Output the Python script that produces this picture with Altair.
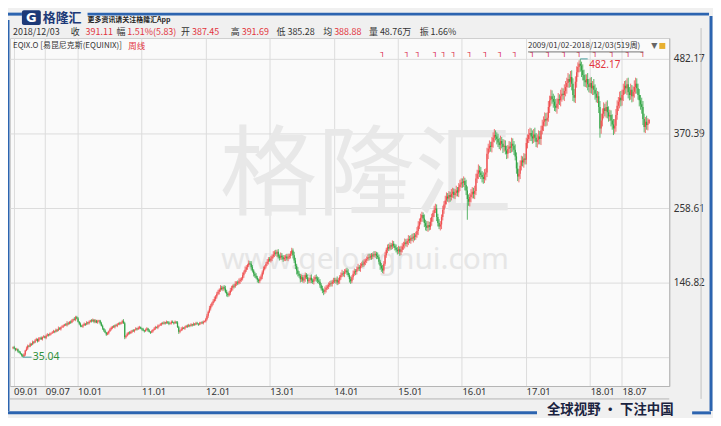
import altair as alt
import pandas as pd

# ---------------- data (weekly candles, EQIX.O, 2009/01/02 - 2018/12/03, 519 weeks) -------------
first_open = 49
c2009 = [50, 48, 46, 47, 44, 42, 40, 38, 36, 39,
         45, 48, 52, 51, 55, 54, 58, 57, 60, 62,
         59, 63, 64, 62, 65, 66, 64, 67, 69, 68,
         70, 71, 72, 74, 73, 76, 75, 78, 77, 80,
         81, 82, 84, 83, 86, 85, 88, 87, 90, 92,
         91, 95, 93]
c2010 = [88, 85, 82, 81, 83, 85, 84, 87, 86, 88,
         90, 89, 91, 88, 90, 87, 89, 90, 86, 82,
         78, 75, 72, 69, 71, 74, 77, 79, 81, 80,
         83, 82, 84, 86, 85, 87, 89, 86, 65, 67,
         70, 72, 71, 73, 75, 74, 76, 78, 77, 79,
         80, 78]
c2011 = [77, 75, 74, 76, 78, 75, 73, 72, 74, 76,
         78, 80, 79, 82, 83, 84, 86, 85, 87, 86,
         88, 87, 85, 86, 88, 87, 86, 88, 87, 80,
         73, 75, 77, 79, 78, 80, 82, 81, 83, 82,
         84, 83, 85, 84, 86, 85, 84, 86, 87, 86,
         88, 89]
c2012 = [92, 97, 103, 108, 112, 116, 119, 122, 126, 130,
         133, 136, 139, 137, 140, 138, 133, 130, 128, 131,
         135, 139, 142, 141, 145, 147, 146, 149, 151, 153,
         158, 162, 166, 170, 173, 176, 175, 170, 165, 160,
         157, 154, 151, 149, 152, 156, 162, 167, 171, 175,
         178, 182, 180]
c2013 = [183, 186, 189, 192, 190, 193, 186, 184, 187, 185,
         182, 184, 186, 183, 185, 187, 190, 195, 188, 180,
         172, 165, 160, 157, 152, 155, 150, 153, 158, 155,
         149, 151, 154, 150, 148, 152, 155, 153, 150, 148,
         143, 138, 135, 133, 136, 139, 141, 143, 146, 145,
         148, 150]
c2014 = [149, 151, 147, 150, 155, 158, 161, 160, 163, 165,
         162, 158, 152, 149, 155, 160, 164, 163, 167, 170,
         168, 172, 175, 174, 178, 180, 182, 185, 184, 187,
         186, 189, 188, 190, 187, 185, 178, 172, 168, 165,
         175, 188, 196, 200, 198, 203, 201, 205, 202, 199,
         196, 194]
c2015 = [197, 193, 196, 201, 204, 207, 205, 209, 212, 210,
         214, 213, 216, 215, 219, 224, 232, 238, 244, 248,
         243, 236, 232, 229, 233, 230, 238, 245, 251, 256,
         258, 245, 236, 231, 234, 245, 256, 264, 270, 276,
         273, 278, 275, 280, 283, 278, 281, 285, 282, 290,
         294, 297]
c2016 = [296, 299, 293, 285, 272, 268, 275, 279, 283, 280,
         284, 303, 310, 315, 312, 308, 305, 302, 309, 312,
         340, 348, 352, 350, 358, 364, 368, 366, 362, 357,
         353, 359, 355, 350, 352, 345, 340, 347, 351, 349,
         355, 352, 346, 336, 318, 306, 310, 322, 330, 327,
         333, 331]
c2017 = [356, 362, 368, 371, 366, 363, 369, 364, 358, 361,
         366, 362, 375, 382, 388, 392, 390, 394, 410, 420,
         426, 422, 418, 412, 409, 415, 422, 420, 426, 430,
         428, 434, 440, 446, 452, 448, 455, 445, 428, 424,
         448, 462, 470, 475, 472, 465, 458, 450, 447, 452,
         444, 440]
c2018 = [446, 438, 442, 436, 430, 424, 426, 410, 378, 390,
         400, 408, 404, 410, 402, 396, 398, 390, 384, 378,
         382, 398, 412, 418, 424, 420, 428, 436, 442, 438,
         444, 432, 428, 436, 426, 433, 440, 445, 438, 428,
         420, 414, 410, 392, 380, 388, 383, 385.28, 391.11]

# upper / lower shadow lengths
u2009 = [1, 2, 1, 2, 1, 1, 2, 1, 2, 2, 1, 3, 2, 1, 2, 1, 2, 1, 2, 2, 1, 2, 1, 2, 1, 2, 1, 2, 2, 1,
         2, 1, 2, 2, 1, 2, 1, 3, 2, 1, 2, 2, 1, 2, 3, 2, 1, 2, 2, 1, 3, 2, 2]
d2009 = [2, 1, 2, 1, 2, 1, 1, 2, 0.96, 0.5, 2, 1, 2, 1, 1, 2, 1, 2, 1, 1, 2, 1, 2, 1, 2, 1, 1, 2, 1, 2,
         1, 2, 1, 1, 2, 1, 2, 1, 1, 2, 1, 2, 1, 1, 2, 2, 1, 2, 1, 2, 1, 2, 1]
u2010 = [2, 1, 2, 1, 2, 2, 1, 2, 1, 2, 1, 2, 2, 1, 2, 1, 2, 1, 1, 2, 2, 1, 2, 1, 2, 1, 2, 2, 1, 2,
         1, 2, 2, 1, 2, 1, 2, 3, 2, 1, 2, 1, 2, 2, 1, 2, 1, 2, 1, 2, 2, 1]
d2010 = [1, 2, 2, 1, 2, 1, 2, 1, 2, 2, 1, 2, 1, 2, 2, 1, 2, 1, 2, 1, 2, 2, 1, 2, 1, 2, 1, 2, 2, 1,
         2, 1, 2, 1, 2, 1, 2, 1, 3, 2, 1, 2, 2, 1, 2, 1, 2, 1, 2, 1, 2, 1]
u2011 = [1, 2, 1, 2, 2, 1, 2, 1, 2, 1, 2, 2, 1, 2, 1, 2, 1, 2, 2, 1, 2, 1, 2, 1, 2, 2, 1, 2, 1, 2,
         2, 1, 3, 2, 1, 2, 1, 2, 2, 1, 2, 1, 2, 1, 2, 2, 1, 2, 1, 2, 2, 1]
d2011 = [2, 1, 2, 1, 1, 2, 1, 2, 1, 2, 1, 2, 1, 2, 2, 1, 2, 1, 1, 2, 1, 2, 2, 1, 2, 1, 2, 1, 2, 1,
         3, 2, 1, 2, 1, 2, 1, 2, 1, 2, 1, 2, 1, 2, 1, 1, 2, 1, 2, 1, 2, 1]
u2012 = [2, 3, 2, 4, 3, 2, 3, 4, 2, 3, 3, 2, 4, 3, 2, 3, 4, 3, 2, 3, 4, 3, 2, 3, 4, 2, 3, 4, 3, 2,
         4, 3, 5, 3, 2, 4, 3, 4, 3, 2, 3, 4, 3, 2, 4, 3, 3, 4, 2, 3, 4, 3, 3]
d2012 = [2, 2, 3, 2, 3, 2, 3, 2, 3, 3, 2, 4, 3, 2, 3, 3, 2, 4, 3, 2, 3, 2, 4, 3, 2, 3, 3, 2, 4, 3,
         3, 4, 2, 3, 4, 3, 2, 5, 3, 4, 3, 2, 4, 3, 3, 2, 4, 3, 2, 3, 3, 4, 2]
u2013 = [4, 3, 5, 3, 4, 3, 4, 3, 5, 4, 3, 4, 3, 4, 5, 3, 4, 4, 3, 5, 4, 3, 5, 4, 3, 4, 3, 5, 4, 3,
         4, 3, 4, 5, 3, 4, 3, 4, 3, 5, 4, 3, 4, 3, 5, 4, 3, 4, 3, 4, 3, 4]
d2013 = [3, 4, 3, 4, 3, 5, 3, 4, 3, 4, 4, 3, 5, 3, 4, 3, 4, 3, 5, 4, 5, 6, 4, 3, 5, 4, 3, 4, 5, 3,
         4, 3, 5, 4, 3, 4, 3, 5, 4, 3, 4, 3, 4, 5, 3, 4, 3, 4, 3, 4, 4, 3]
u2014 = [4, 3, 5, 4, 3, 4, 5, 3, 4, 3, 4, 5, 3, 4, 3, 5, 4, 3, 4, 5, 3, 4, 3, 5, 4, 3, 4, 4, 5, 3,
         4, 3, 5, 4, 3, 5, 4, 3, 4, 5, 4, 5, 3, 4, 5, 4, 3, 5, 4, 3, 5, 4]
d2014 = [3, 4, 4, 3, 5, 4, 3, 4, 5, 3, 4, 3, 5, 4, 3, 4, 3, 5, 4, 3, 4, 5, 3, 4, 3, 5, 4, 3, 4, 3,
         5, 4, 3, 4, 5, 3, 4, 6, 5, 4, 5, 3, 4, 5, 4, 3, 5, 4, 3, 4, 4, 5]
u2015 = [5, 4, 6, 5, 4, 6, 5, 4, 6, 5, 4, 6, 5, 5, 4, 6, 7, 5, 6, 5, 4, 6, 5, 7, 6, 5, 6, 5, 4, 6,
         7, 6, 5, 6, 5, 4, 6, 5, 7, 6, 5, 6, 5, 7, 6, 5, 6, 7, 5, 6, 7, 6]
d2015 = [4, 6, 5, 4, 5, 6, 4, 5, 6, 4, 5, 4, 6, 5, 4, 5, 6, 5, 4, 6, 5, 6, 7, 5, 6, 5, 4, 6, 7, 6,
         5, 6, 5, 4, 6, 7, 5, 6, 5, 6, 5, 6, 7, 5, 6, 5, 6, 5, 6, 7, 6, 5]
u2016 = [6, 7, 5, 8, 6, 7, 6, 8, 7, 6, 8, 7, 6, 9, 7, 8, 6, 7, 8, 6, 9, 7, 8, 6, 7, 8, 9, 7, 6, 8,
         7, 8, 6, 7, 9, 8, 7, 6, 8, 7, 9, 8, 7, 8, 6, 9, 7, 8, 7, 6, 8, 7]
d2016 = [7, 6, 8, 7, 31, 6, 7, 8, 6, 7, 8, 6, 7, 8, 7, 6, 8, 7, 6, 9, 7, 8, 6, 7, 8, 9, 7, 6, 8, 7,
         6, 8, 7, 9, 7, 6, 8, 7, 6, 8, 7, 9, 8, 6, 8, 7, 9, 8, 7, 6, 8, 7]
u2017 = [8, 7, 9, 8, 7, 9, 8, 10, 7, 8, 9, 8, 7, 9, 8, 10, 9, 8, 9, 7, 10, 9, 8, 9, 10, 8, 9, 7, 10, 9,
         8, 10, 9, 8, 9, 7, 9, 10, 8, 9, 8, 9, 7, 5, 7.17, 6, 9, 8, 9, 7, 9, 8]
d2017 = [7, 8, 6, 9, 7, 8, 7, 6, 8, 9, 7, 8, 9, 6, 8, 7, 9, 8, 6, 9, 8, 7, 9, 8, 6, 9, 8, 7, 9, 8,
         7, 9, 8, 10, 7, 9, 8, 10, 9, 7, 8, 9, 7, 8, 9, 10, 8, 9, 7, 8, 9, 8]
u2018 = [8, 9, 7, 10, 8, 9, 8, 7, 9, 10, 8, 9, 7, 8, 10, 9, 8, 7, 9, 8, 10, 9, 8, 7, 9, 10, 8, 9, 7, 8,
         9, 10, 8, 9, 7, 8, 10, 9, 8, 7, 9, 8, 10, 9, 8, 7, 9, 8, 0.58]
d2018 = [9, 8, 10, 8, 9, 7, 8, 9, 14, 8, 9, 7, 8, 10, 9, 8, 7, 9, 8, 10, 8, 9, 7, 8, 10, 9, 8, 9, 7, 8,
         10, 9, 8, 7, 9, 8, 9, 10, 8, 7, 9, 8, 10, 9, 8, 9, 7, 8, 0]

close = c2009 + c2010 + c2011 + c2012 + c2013 + c2014 + c2015 + c2016 + c2017 + c2018
wick_up = u2009 + u2010 + u2011 + u2012 + u2013 + u2014 + u2015 + u2016 + u2017 + u2018
wick_dn = d2009 + d2010 + d2011 + d2012 + d2013 + d2014 + d2015 + d2016 + d2017 + d2018

# weeks carrying a dividend marker
div_weeks = [301, 321, 330, 344, 351, 359, 372, 385, 397, 409, 423, 436, 449, 461, 474, 488, 501, 513]
x_tick_months = ["2009-01", "2009-07", "2010-01", "2011-01", "2012-01", "2013-01", "2014-01",
                 "2015-01", "2016-01", "2017-01", "2018-01", "2018-07"]
y_ticks = [35.04, 146.82, 258.61, 370.39, 482.17]

# ---------------- tables ----------------
dates = pd.date_range("2008-12-29", periods=len(close), freq="7D")
opens = [first_open] + close[:-1]
rows = []
for i in range(len(close)):
    o, c = opens[i], close[i]
    wu = wick_up[i] if i < len(wick_up) else 0
    wd = wick_dn[i] if i < len(wick_dn) else 0
    rows.append(dict(date=dates[i].strftime("%Y-%m-%d"), open=o, close=c,
                     high=max(o, c) + wu, low=min(o, c) - wd,
                     dir="up" if c >= o else "down"))
df = pd.DataFrame(rows)

imax = int(df["high"].idxmax())
imin = int(df["low"].idxmin())
ann = pd.DataFrame([
    dict(date=df.loc[imax, "date"], date2=(dates[imax] + pd.Timedelta(days=42)).strftime("%Y-%m-%d"),
         v=float(df.loc[imax, "high"]), label=f"{df.loc[imax, 'high']:.2f}", kind="max"),
    dict(date=df.loc[imin, "date"], date2=(dates[imin] + pd.Timedelta(days=50)).strftime("%Y-%m-%d"),
         v=float(df.loc[imin, "low"]), label=f"{df.loc[imin, 'low']:.2f}", kind="min"),
])
div_df = pd.DataFrame({"date": [dates[w].strftime("%Y-%m-%d") for w in div_weeks if w < len(dates)]})
ONE = pd.DataFrame({"k": [0]})

# ---------------- styling ----------------
W, H = 663, 350
RED = "#e2343c"
UP = "#ef4f50"
DOWN = "#33a546"
TXT = "#333333"
BLUE = "#2c64b0"
GRID = "#dcdcdc"
CJK = "Noto Sans CJK SC"

x_scale = alt.Scale(type="utc", domain=[alt.DateTime(year=2008, month=12, date=12, utc=True),
                                        alt.DateTime(year=2019, month=3, date=28, utc=True)])
y_scale = alt.Scale(domain=[-8.2, 513.5], nice=False, zero=False)
x_axis = alt.Axis(values=[alt.DateTime(year=int(s[:4]), month=int(s[5:7]), date=1, utc=True) for s in x_tick_months],
                  labelExpr="utcFormat(datum.value, '%y.%m')", labelAlign="left", labelBaseline="top",
                  labelPadding=1, labelFontSize=9.5, labelColor=TXT, labelFont="Noto Sans",
                  labelOverlap=False, labelBound=False, labelFlush=False, ticks=False,
                  domainColor="#b4b4b4", grid=True, gridColor=GRID, title=None)
y_axis = alt.Axis(orient="right", values=y_ticks,
                  labelExpr="datum.value < 100 ? '' : format(datum.value, '.2f')",
                  ticks=False, grid=True, gridColor=GRID, domainColor="#b4b4b4",
                  labelPadding=4, labelFontSize=10, labelColor=TXT, labelFont="Noto Sans", title=None)
X = alt.X("date:T", scale=x_scale, axis=x_axis)
col = alt.Color("dir:N", scale=alt.Scale(domain=["up", "down"], range=[UP, DOWN]), legend=None)


def txt(s, x, y, color=TXT, size=9, weight="normal", font=CJK, align="left"):
    return alt.Chart(ONE).mark_text(text=s, align=align, baseline="middle", fontSize=size,
                                    fontWeight=weight, font=font, color=color).encode(
        x=alt.value(x), y=alt.value(y))


def hline(x1, x2, y, color, w=1.0):
    return alt.Chart(ONE).mark_rule(color=color, strokeWidth=w).encode(
        x=alt.value(x1), x2=alt.value(x2), y=alt.value(y))


def vline(x, y1, y2, color, w=1.0):
    return alt.Chart(ONE).mark_rule(color=color, strokeWidth=w).encode(
        x=alt.value(x), y=alt.value(y1), y2=alt.value(y2))


# watermark
wm1 = txt("格隆汇", 358, 141, color="#e8e8e8", size=98, align="center")
wm2 = txt("www.gelonghui.com", 357, 223, color="#e6e6e6", size=30, font="Noto Sans", align="center")

base = alt.Chart(df)
wick = base.mark_rule(strokeWidth=0.8).encode(
    x=X, y=alt.Y("low:Q", scale=y_scale, axis=y_axis), y2="high:Q", color=col)
body = base.mark_rule(strokeWidth=1.25).encode(
    x=X, y=alt.Y("open:Q", scale=y_scale, axis=y_axis), y2="close:Q", color=col)

div_marks = alt.Chart(div_df).mark_text(text="┐", fontSize=8, fontWeight="bold", color="#d8103c",
                                        baseline="middle", align="center", font="DejaVu Sans").encode(
    x=X, y=alt.value(15.5))

lead = alt.Chart(ann).mark_rule(color="#4a9fa0", strokeWidth=1).encode(
    x=X, x2="date2:T", y=alt.Y("v:Q", scale=y_scale, axis=y_axis))
ann_max = alt.Chart(ann).transform_filter("datum.kind == 'max'").mark_text(
    align="left", baseline="middle", dx=9, dy=6, fontSize=10, color=RED, font="Noto Sans").encode(
    x=X, y=alt.Y("v:Q", scale=y_scale, axis=y_axis), text="label:N")
ann_min = alt.Chart(ann).transform_filter("datum.kind == 'min'").mark_text(
    align="left", baseline="middle", dx=10, dy=0, fontSize=10.5, color="#2f8f3a", font="Noto Sans").encode(
    x=X, y=alt.Y("v:Q", scale=y_scale, axis=y_axis), text="label:N")

# header row 1
row1_y = -6
hdr = [
    txt("2018/12/03", 3, row1_y), txt("收", 61, row1_y), txt("391.11", 76, row1_y, RED),
    txt("幅", 107, row1_y), txt("1.51%(5.83)", 118, row1_y, RED), txt("开", 172, row1_y),
    txt("387.45", 183, row1_y, RED), txt("高", 222, row1_y), txt("391.69", 233, row1_y, RED),
    txt("低", 268, row1_y), txt("385.28", 279, row1_y), txt("均", 315, row1_y),
    txt("388.88", 326, row1_y, RED), txt("量", 361, row1_y), txt("48.76万", 372, row1_y),
    txt("振", 412, row1_y), txt("1.66%", 423, row1_y),
    # row 2
    txt("EQIX.O [易昆尼克斯(EQUINIX)]", 3, 8, size=8),
    txt("周线", 119, 8, RED, size=8.5),
    txt("2009/01/02-2018/12/03(519周)", 521, 8, size=8),
    hline(521, 637, 14, "#555555", 0.8),
    txt("▼", 645, 8, "#666666", size=8, font="DejaVu Sans"),
    alt.Chart(ONE).mark_rect(color="#e8b030").encode(x=alt.value(653), x2=alt.value(659),
                                                     y=alt.value(5), y2=alt.value(11)),
]

# logo and frame
deco = [
    hline(-2, 12, -24, BLUE, 3), hline(78, 703, -24, BLUE, 3),
    vline(705, -22, 375, BLUE, 3), vline(-2, -18, 375, BLUE, 3),
    hline(-2, 530, 377, BLUE, 3), hline(686, 705, 377, BLUE, 3),
    alt.Chart(ONE).mark_rect(color="#1d3a78", cornerRadius=2).encode(
        x=alt.value(12), x2=alt.value(31), y=alt.value(-28), y2=alt.value(-13)),
    txt("G", 21.5, -20.5, "#ffffff", size=13, weight="bold", font="DejaVu Sans", align="center"),
    txt("格隆汇", 33, -20, "#1d3a78", size=13, weight="bold"),
    txt("更多资讯请关注格隆汇App", 78, -18, "#222222", size=7, weight="bold"),
    hline(0, 663, 363, "#b4b4b4", 1),
    vline(695, -10, 363, "#c4c4c4", 1),
    txt("全球视野 · 下注中国", 540, 374, "#1a2340", size=13.5, weight="bold"),
]

chart = alt.layer(
    wm1, wm2, wick, body, div_marks, lead, ann_max, ann_min, *hdr, *deco
).properties(
    width=W, height=H,
    padding={"left": 2, "top": 29, "right": 44, "bottom": 31},
    autosize=alt.AutoSizeParams(type="none"),
    background="#f0f0f0",
).configure_view(fill="#fafafa", stroke="#cfcfcf", strokeWidth=1)

chart.save("out.html", embed_options={"renderer": "svg", "actions": False})
